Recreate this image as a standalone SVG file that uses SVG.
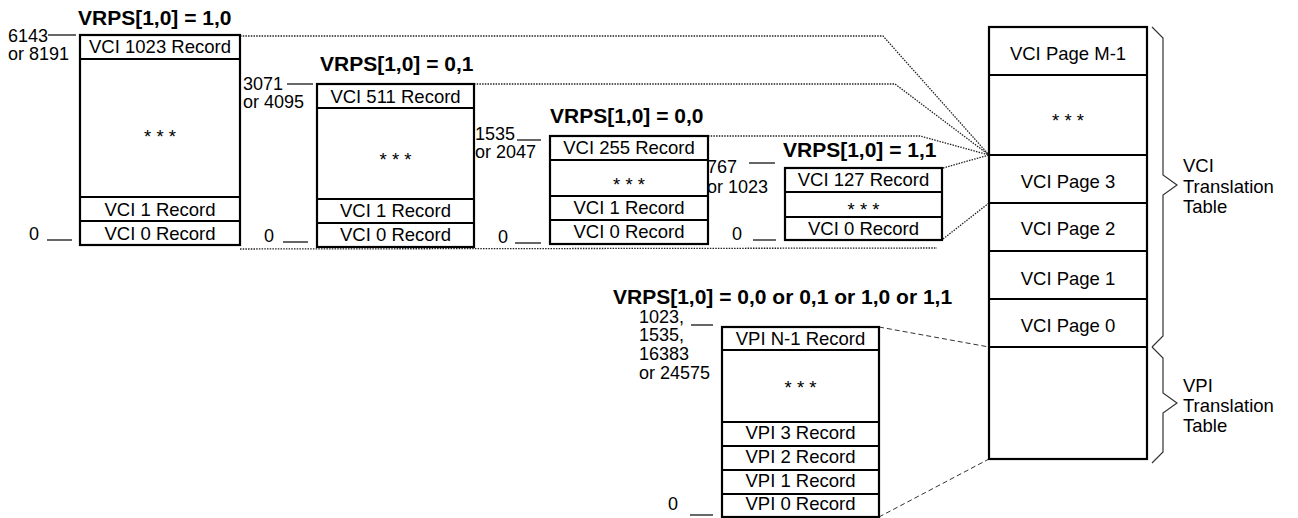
<svg xmlns="http://www.w3.org/2000/svg" width="1298" height="518" viewBox="0 0 1298 518">
<style>
  text { font-family: "Liberation Sans", Arial, sans-serif; font-size: 18.5px; fill: #000; }
  .c { text-anchor: middle; }
  .t { font-weight: bold; font-size: 21px; }
  .lb { font-size: 18px; }
  .box { fill: #fff; stroke: #000; stroke-width: 2.2; }
  .div { stroke: #000; stroke-width: 2.2; }
  .tick { stroke: #000; stroke-width: 1.2; }
  .dot { fill: none; stroke: #222; stroke-width: 1.3; stroke-dasharray: 1.5 1.2; }
  .dash { fill: none; stroke: #333; stroke-width: 1; stroke-dasharray: 5 3; }
  .brace { fill: none; stroke: #333; stroke-width: 1.2; }
</style>

<g id="connectors">
  <polyline class="dot" points="240,36 883,36 989,155"/>
  <polyline class="dot" points="474,84 895,84 989,155"/>
  <polyline class="dot" points="708,136 920,136 989,155"/>
  <polyline class="dot" points="943,168 989,155"/>
  <polyline class="dot" points="943,239 989,203"/>
  <polyline class="dot" points="240,249 937,248"/>
  <polyline class="dash" points="879,327 989,347"/>
  <polyline class="dash" points="879,517 989,459"/>
</g>

<g id="table-vrps10">
  <text class="t" x="78" y="25">VRPS[1,0] = 1,0</text>
  <text class="lb" x="8" y="42">6143</text>
  <line class="tick" x1="48" y1="35" x2="76" y2="35"/>
  <text class="lb" x="8" y="60">or 8191</text>
  <text class="lb" x="29" y="240">0</text>
  <line class="tick" x1="47" y1="240" x2="72" y2="240"/>
  <rect class="box" x="80" y="35" width="160" height="210"/>
  <line class="div" x1="80" y1="59" x2="240" y2="59"/>
  <line class="div" x1="80" y1="197" x2="240" y2="197"/>
  <line class="div" x1="80" y1="221" x2="240" y2="221"/>
  <text class="c" x="160" y="53">VCI 1023 Record</text>
  <text class="c" x="160" y="142.5">* * *</text>
  <text class="c" x="160" y="216">VCI 1 Record</text>
  <text class="c" x="160" y="240">VCI 0 Record</text>
</g>

<g id="table-vrps01">
  <text class="t" x="320" y="71">VRPS[1,0] = 0,1</text>
  <text class="lb" x="243" y="90">3071</text>
  <line class="tick" x1="287" y1="84" x2="313" y2="84"/>
  <text class="lb" x="243" y="108">or 4095</text>
  <text class="lb" x="264" y="242">0</text>
  <line class="tick" x1="283" y1="242" x2="308" y2="242"/>
  <rect class="box" x="317" y="84" width="157" height="163"/>
  <line class="div" x1="317" y1="108" x2="474" y2="108"/>
  <line class="div" x1="317" y1="199" x2="474" y2="199"/>
  <line class="div" x1="317" y1="223" x2="474" y2="223"/>
  <text class="c" x="395.5" y="103">VCI 511 Record</text>
  <text class="c" x="395.5" y="165.5">* * *</text>
  <text class="c" x="395.5" y="217">VCI 1 Record</text>
  <text class="c" x="395.5" y="241">VCI 0 Record</text>
</g>

<g id="table-vrps00">
  <text class="t" x="550" y="123">VRPS[1,0] = 0,0</text>
  <text class="lb" x="475" y="140">1535</text>
  <line class="tick" x1="517" y1="140" x2="541" y2="140"/>
  <text class="lb" x="475" y="158">or 2047</text>
  <text class="lb" x="498" y="243">0</text>
  <line class="tick" x1="515" y1="243" x2="541" y2="243"/>
  <rect class="box" x="550" y="136" width="158" height="108"/>
  <line class="div" x1="550" y1="160" x2="708" y2="160"/>
  <line class="div" x1="550" y1="196" x2="708" y2="196"/>
  <line class="div" x1="550" y1="220" x2="708" y2="220"/>
  <text class="c" x="629" y="154">VCI 255 Record</text>
  <text class="c" x="629" y="190.5">* * *</text>
  <text class="c" x="629" y="214">VCI 1 Record</text>
  <text class="c" x="629" y="238">VCI 0 Record</text>
</g>

<g id="table-vrps11">
  <text class="t" x="783" y="157">VRPS[1,0] = 1,1</text>
  <text class="lb" x="707" y="173">767</text>
  <line class="tick" x1="749" y1="163" x2="775" y2="163"/>
  <text class="lb" x="707" y="193">or 1023</text>
  <text class="lb" x="732" y="240">0</text>
  <line class="tick" x1="753" y1="240" x2="776" y2="240"/>
  <rect class="box" x="785" y="168" width="157" height="72"/>
  <line class="div" x1="785" y1="192" x2="942" y2="192"/>
  <line class="div" x1="785" y1="217" x2="942" y2="217"/>
  <text class="c" x="863.5" y="186">VCI 127 Record</text>
  <text class="c" x="863.5" y="216">* * *</text>
  <text class="c" x="863.5" y="235">VCI 0 Record</text>
</g>

<g id="table-vpi">
  <text class="t" x="613" y="304">VRPS[1,0] = 0,0 or 0,1 or 1,0 or 1,1</text>
  <text class="lb" x="639" y="323">1023,</text>
  <line class="tick" x1="691" y1="325" x2="713" y2="325"/>
  <text class="lb" x="639" y="341">1535,</text>
  <text class="lb" x="639" y="360">16383</text>
  <text class="lb" x="639" y="379">or 24575</text>
  <text class="lb" x="668" y="510">0</text>
  <line class="tick" x1="690" y1="515" x2="713" y2="515"/>
  <rect class="box" x="722" y="327" width="157" height="190"/>
  <line class="div" x1="722" y1="350" x2="879" y2="350"/>
  <line class="div" x1="722" y1="422" x2="879" y2="422"/>
  <line class="div" x1="722" y1="446" x2="879" y2="446"/>
  <line class="div" x1="722" y1="470" x2="879" y2="470"/>
  <line class="div" x1="722" y1="494" x2="879" y2="494"/>
  <text class="c" x="800.5" y="345">VPI N-1 Record</text>
  <text class="c" x="800.5" y="394">* * *</text>
  <text class="c" x="800.5" y="439">VPI 3 Record</text>
  <text class="c" x="800.5" y="463">VPI 2 Record</text>
  <text class="c" x="800.5" y="487">VPI 1 Record</text>
  <text class="c" x="800.5" y="510">VPI 0 Record</text>
</g>

<g id="translation-table">
  <rect class="box" x="989" y="27" width="158" height="432" stroke-width="2.5"/>
  <line class="div" x1="989" y1="75" x2="1147" y2="75"/>
  <line class="div" x1="989" y1="155" x2="1147" y2="155"/>
  <line class="div" x1="989" y1="203" x2="1147" y2="203"/>
  <line class="div" x1="989" y1="251" x2="1147" y2="251"/>
  <line class="div" x1="989" y1="299" x2="1147" y2="299"/>
  <line class="div" x1="989" y1="347" x2="1147" y2="347"/>
  <text class="c" x="1068" y="60">VCI Page M-1</text>
  <text class="c" x="1068" y="126.5">* * *</text>
  <text class="c" x="1068" y="188">VCI Page 3</text>
  <text class="c" x="1068" y="235">VCI Page 2</text>
  <text class="c" x="1068" y="285">VCI Page 1</text>
  <text class="c" x="1068" y="332">VCI Page 0</text>
</g>

<g id="vci-brace">
  <polyline class="brace" points="1152,27 1163,38 1163,175 1177,185 1163,195 1163,336 1152,347"/>
  <text x="1183" y="172">VCI</text>
  <text x="1183" y="193">Translation</text>
  <text x="1183" y="213">Table</text>
</g>

<g id="vpi-brace">
  <polyline class="brace" points="1152,347 1163,358 1163,393 1177,403 1163,413 1163,452 1152,463"/>
  <text x="1183" y="392">VPI</text>
  <text x="1183" y="412">Translation</text>
  <text x="1183" y="432">Table</text>
</g>
</svg>
